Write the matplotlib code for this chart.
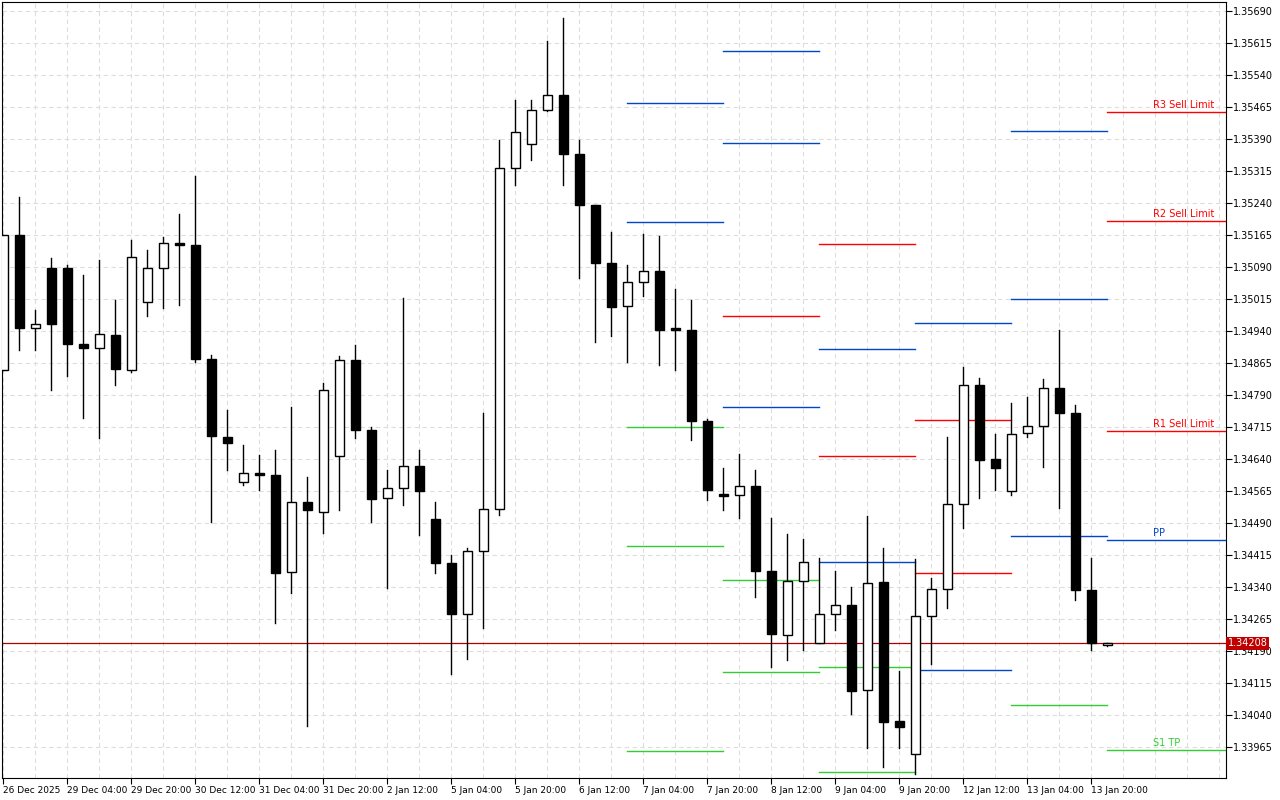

import matplotlib
matplotlib.use("Agg")
import matplotlib.pyplot as plt
from matplotlib.patches import Rectangle
import numpy as np

BASE = 1.34
PT = 1e-5
# OHLC in points above 1.34000
O = [849,1165,947,1088,1088,910,900,931,849,1008,1088,1146,1142,874,692,586,607,602,375,539,516,647,872,708,549,572,624,499,396,277,424,523,1322,1378,1458,1493,1355,1235,1099,999,1055,1081,947,942,729,558,556,577,378,228,354,209,277,298,99,352,26,-51,272,335,535,813,640,565,701,717,806,748,333,204]
H = [1165,1254,989,1111,1095,1071,1106,1013,1153,1130,1160,1214,1303,884,755,673,649,661,762,598,818,881,907,715,614,1017,661,539,415,431,748,1388,1481,1481,1620,1674,1388,1235,1172,1095,1167,1163,1038,1013,734,619,652,614,502,464,452,408,378,340,506,431,143,406,361,692,856,830,699,771,785,828,942,767,408,209]
L = [849,895,895,802,835,736,689,813,844,975,994,1001,867,492,614,579,567,256,326,14,467,520,689,492,338,532,462,373,136,171,244,509,1282,1341,1456,1282,1064,914,928,867,1022,860,849,685,544,520,502,317,152,169,192,209,239,42,-37,-82,-37,-98,160,291,478,549,567,556,692,621,525,310,192,202]
C = [1165,947,956,956,910,900,933,851,1113,1088,1146,1142,874,694,678,607,602,373,539,520,802,872,708,546,572,624,565,396,277,424,523,1322,1406,1458,1493,1355,1235,1099,996,1055,1081,942,942,729,567,553,577,378,230,354,399,277,298,96,349,24,12,272,335,535,813,638,619,699,717,806,748,333,209,209]

xlabels = ["26 Dec 2025","29 Dec 04:00","29 Dec 20:00","30 Dec 12:00","31 Dec 04:00","31 Dec 20:00",
           "2 Jan 12:00","5 Jan 04:00","5 Jan 20:00","6 Jan 12:00","7 Jan 04:00","7 Jan 20:00",
           "8 Jan 12:00","9 Jan 04:00","9 Jan 20:00","12 Jan 12:00","13 Jan 04:00","13 Jan 20:00"]

BLUE, RED, GREEN = "#0047c8", "#ff0000", "#32cd32"
seg_bounds = [(39,45),(45,51),(51,57),(57,63),(63,69),(69,76.5)]
seg_levels = [
    [(1474,BLUE),(1195,BLUE),(715,GREEN),(436,GREEN),(-44,GREEN)],
    [(1596,BLUE),(1381,BLUE),(975,RED),(762,BLUE),(356,GREEN),(141,GREEN)],
    [(1144,RED),(898,BLUE),(647,RED),(399,BLUE),(152,GREEN),(-94,GREEN)],
    [(959,BLUE),(731,RED),(373,RED),(145,BLUE)],
    [(1409,BLUE),(1015,BLUE),(460,BLUE),(63,GREEN)],
    [(1453,RED),(1198,RED),(706,RED),(450,BLUE),(-42,GREEN)],
]
last_labels = ["R3 Sell Limit","R2 Sell Limit","R1 Sell Limit","PP","S1 TP"]
current = 208

fig = plt.figure(figsize=(12.8,8), dpi=100)
ax = fig.add_axes([2/1280, 22/800, 1224/1280, 776/800])
n = len(O)
px = 1/16
ax.set_xlim(-px, 1223/16)
ax.set_ylim(BASE-108*PT, BASE+1711*PT)

yt = [BASE + (1690 - 75*k)*PT for k in range(24)]
ax.set_yticks(yt)
ax.set_yticklabels([f"{v:.5f}" for v in yt], fontsize=7, family="DejaVu Sans")
ax.yaxis.tick_right()
ax.tick_params(axis='y', length=4, width=0.8, pad=1, direction='out')
ax.set_xticks(range(0, n, 4))
ax.set_xticklabels(xlabels, fontsize=6.5, ha='left')
ax.tick_params(axis='x', length=4, width=0.8, pad=2)
for s in ax.spines.values():
    s.set_linewidth(0.8)
ax.set_axisbelow(True)
for v in yt:
    ax.axhline(v, color="#dddddd", lw=0.8, ls=(0,(4,3)), zorder=0)
for i in range(0, 78, 2):
    ax.axvline(i, color="#dddddd", lw=0.8, ls=(0,(4,3)), zorder=0)

for (a,b), levs in zip(seg_bounds, seg_levels):
    for v, col in levs:
        ax.plot([a,b],[BASE+v*PT]*2, color=col, lw=1, zorder=2)
for (v,col), t in zip(seg_levels[-1], last_labels):
    ax.text(71.9, BASE+v*PT+4*PT, t, color=col, fontsize=7, ha='left', va='bottom', zorder=3)

ax.axhline(BASE+current*PT, color="#b00000", lw=0.9, zorder=2)

w = 9/16
for i in range(n):
    o,h,l,c = O[i],H[i],L[i],C[i]
    ax.plot([i,i],[BASE+l*PT, BASE+h*PT], color='black', lw=1, zorder=4)
    lo, hi = min(o,c), max(o,c)
    hgt = max(hi-lo, 1.5)
    ax.add_patch(Rectangle((i-w/2, BASE+lo*PT), w, hgt*PT,
                           facecolor='black' if c < o else 'white',
                           edgecolor='black', lw=1, zorder=5))

ax.text(1.0015, BASE+current*PT, f"{BASE+current*PT:.5f}", transform=ax.get_yaxis_transform(),
        ha='left', va='center', fontsize=7, color='white',
        bbox=dict(boxstyle='square,pad=0.15', fc='#c00000', ec='none'), zorder=10, clip_on=False)

fig.savefig("out.png", dpi=100)
